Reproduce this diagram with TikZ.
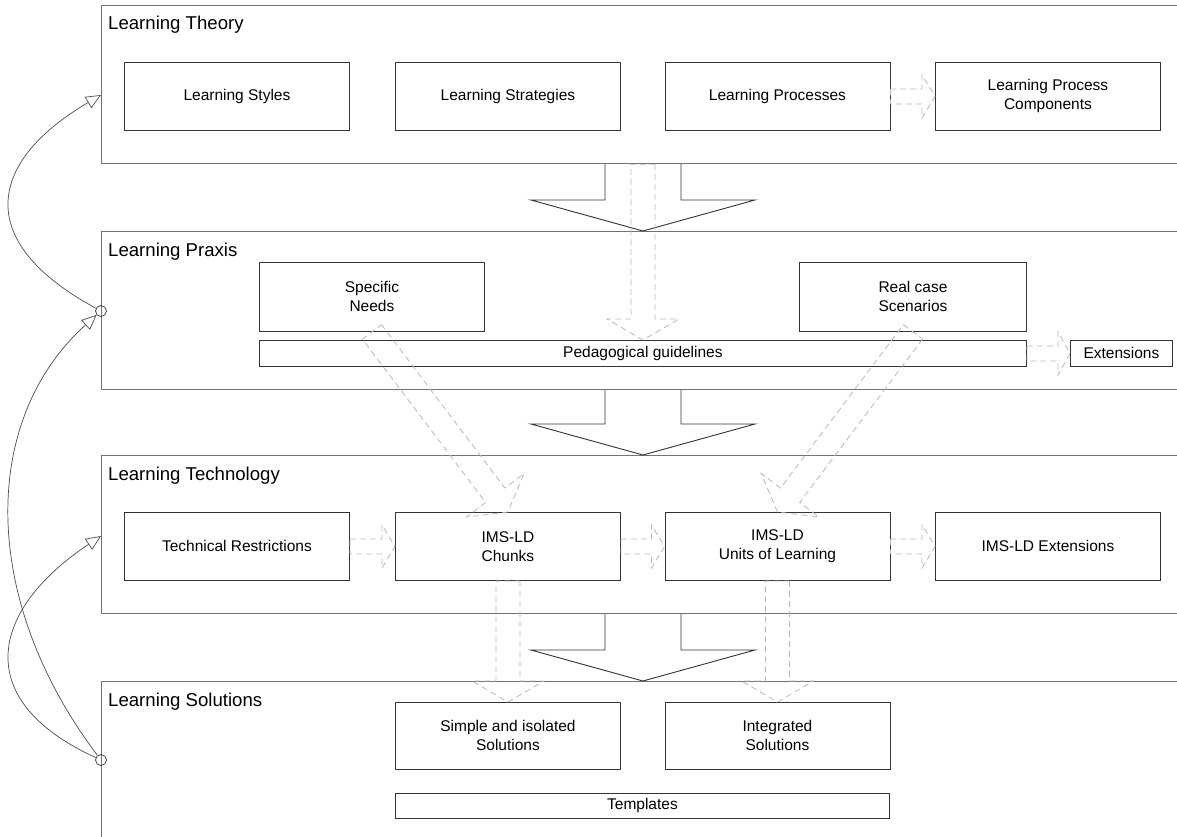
\documentclass[tikz,border=0pt]{standalone}
\usepackage{fontspec}
\setmainfont{Liberation Sans}
\usetikzlibrary{arrows.meta,calc}

\tikzset{
  panel/.style={draw=black!55, line width=1.2pt, anchor=north west, inner sep=0pt},
  box/.style={draw=black!80, line width=0.9pt, anchor=north west, inner sep=0pt,
    align=center, font=\fontsize{15.5}{19}\selectfont},
  paneltitle/.style={anchor=base west, inner sep=0pt, font=\fontsize{18.6}{22}\selectfont},
  flowarrow/.style={draw=black!28, line width=0.8pt, dash pattern=on 6pt off 4pt},
  blockarrow/.style={draw=black!80, line width=0.9pt},
  loop/.style={draw=black!70, line width=0.7pt, -{Triangle[open,length=15pt,width=13pt]}},
  hub/.style={circle, draw=black!80, line width=0.7pt, minimum size=11pt, inner sep=0pt},
}

% hollow dashed arrow: tail, tip, shaft half width, head half width, head length
\newcommand{\hollowarrow}[5]{%
  \coordinate (ha-t) at (#1);
  \coordinate (ha-h) at (#2);
  \coordinate (ha-b) at ($(ha-h)!#5!(ha-t)$);
  \draw[flowarrow] ($(ha-t)!#3!90:(ha-h)$) -- ($(ha-b)!#3!90:(ha-h)$)
    -- ($(ha-b)!#4!90:(ha-h)$) -- (ha-h) -- ($(ha-b)!#4!-90:(ha-h)$)
    -- ($(ha-b)!#3!-90:(ha-h)$) -- ($(ha-t)!#3!-90:(ha-h)$) -- cycle;
}

% open block arrow between two layers: top of shaft, tip
\newcommand{\layerarrow}[2]{%
  \draw[blockarrow] ($(#1)+(-38,0)$) -- ($(#2)+(-38,-31)$) -- ($(#2)+(-112,-31)$)
    -- (#2) -- ($(#2)+(112,-31)$) -- ($(#2)+(38,-31)$) -- ($(#1)+(38,0)$);
}

\begin{document}
\begin{tikzpicture}[x=1pt, y=-1pt]
\useasboundingbox (0,0) rectangle (1177,837);
\clip (0,0) rectangle (1177,837);

% layers
\node[panel, minimum width=1140pt, minimum height=158pt] (theory) at (101,5) {};
\node[panel, minimum width=1140pt, minimum height=158pt] (praxis) at (101,231) {};
\node[panel, minimum width=1140pt, minimum height=158pt] (tech) at (101,455) {};
\node[panel, minimum width=1140pt, minimum height=220pt] (sol) at (101,681) {};

\node[paneltitle] (ttheory) at (108,30) {Learning Theory};
\node[paneltitle] (tpraxis) at (108,256) {Learning Praxis};
\node[paneltitle] (ttech) at (108,480) {Learning Technology};
\node[paneltitle] (tsol) at (108,706) {Learning Solutions};

% learning theory
\node[box, minimum width=225pt, minimum height=68pt] (styles) at (124,62) {Learning Styles};
\node[box, minimum width=225pt, minimum height=68pt] (strat) at (395,62) {Learning Strategies};
\node[box, minimum width=225pt, minimum height=68pt] (procs) at (664.5,62) {Learning Processes};
\node[box, minimum width=225pt, minimum height=68pt] (comps) at (935,62) {Learning Process\\Components};

% learning praxis
\node[box, minimum width=225pt, minimum height=69pt] (needs) at (259,262) {Specific\\Needs};
\node[box, minimum width=227pt, minimum height=69pt] (cases) at (799,262) {Real case\\Scenarios};
\node[box, minimum width=767pt, minimum height=26pt] (guide) at (259,340) {Pedagogical guidelines};
\node[box, minimum width=102pt, minimum height=26pt] (ext) at (1070,340) {Extensions};

% learning technology
\node[box, minimum width=225pt, minimum height=68pt] (restr) at (124,512) {Technical Restrictions};
\node[box, minimum width=225pt, minimum height=68pt] (chunks) at (395,512) {IMS-LD\\Chunks};
\node[box, minimum width=225pt, minimum height=68pt] (units) at (664.5,512) {IMS-LD\\Units of Learning};
\node[box, minimum width=225pt, minimum height=68pt] (imsext) at (935,512) {IMS-LD Extensions};

% learning solutions
\node[box, minimum width=225pt, minimum height=67pt] (simple) at (395,702) {Simple and isolated\\Solutions};
\node[box, minimum width=225pt, minimum height=67pt] (integ) at (664.5,702) {Integrated\\Solutions};
\node[box, minimum width=494pt, minimum height=25pt] (templ) at (395,793) {Templates};

% block arrows between layers
\coordinate (b1) at (guide.north |- theory.south);
\coordinate (b2) at (guide.north |- praxis.south);
\coordinate (b3) at (guide.north |- tech.south);
\coordinate (p1) at (guide.north |- praxis.north);
\coordinate (p2) at (guide.north |- tech.north);
\coordinate (p3) at (guide.north |- sol.north);
\layerarrow{b1}{p1}
\layerarrow{b2}{p2}
\layerarrow{b3}{p3}

% dashed flows
\hollowarrow{procs.east}{comps.west}{7.5pt}{21.5pt}{13pt}
\hollowarrow{guide.east}{ext.west}{7.5pt}{21.5pt}{12pt}
\hollowarrow{restr.east}{chunks.west}{7.5pt}{21.5pt}{13pt}
\hollowarrow{chunks.east}{units.west}{7.5pt}{21.5pt}{13pt}
\hollowarrow{units.east}{imsext.west}{7.5pt}{21.5pt}{13pt}
\hollowarrow{b1}{guide.north}{12pt}{36pt}{21pt}
\hollowarrow{needs.south}{chunks.north}{12pt}{36pt}{21pt}
\hollowarrow{cases.south}{units.north}{12pt}{36pt}{21pt}
\hollowarrow{chunks.south}{simple.north}{12pt}{36pt}{21pt}
\hollowarrow{units.south}{integ.north}{12pt}{36pt}{21pt}

% feedback loops on the left
\node[hub] (c1) at (101,311) {};
\node[hub] (c2) at (101,760) {};
\coordinate (t1) at (101,95);
\coordinate (t3) at (101,536);
\draw[loop] (c1) .. controls (-30,240) and (-10,160) .. (t1);
\draw[loop] (c2) .. controls (-20,600) and (-20,420) .. (c1);
\draw[loop] (c2) .. controls (-30,700) and (-10,610) .. (t3);
\end{tikzpicture}
\end{document}
